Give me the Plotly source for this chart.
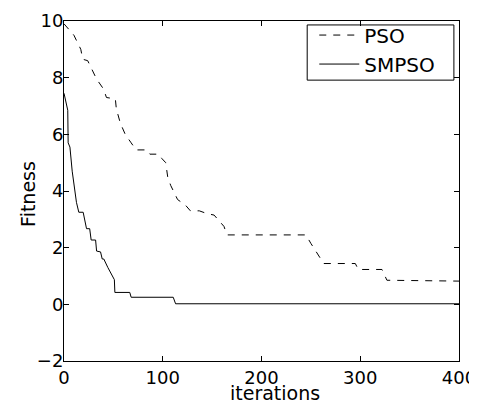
import plotly.graph_objects as go

# Data
pso_x = [0, 10, 17, 19, 24, 28, 33, 40, 43, 52, 53, 57, 62, 68, 73, 84, 87, 96, 99, 103,
         105, 108, 115, 123, 128, 137, 145, 152, 156, 162, 165, 245, 250, 256, 263, 295,
         298, 322, 327, 400]
pso_y = [9.9, 9.5, 9.0, 8.65, 8.6, 8.3, 7.95, 7.6, 7.3, 7.25, 6.9, 6.4, 6.0, 5.7, 5.45, 5.45,
         5.3, 5.3, 5.15, 5.0, 4.5, 4.2, 3.7, 3.5, 3.3, 3.3, 3.2, 3.15, 3.0, 2.75, 2.45, 2.45,
         2.15, 1.8, 1.44, 1.44, 1.23, 1.23, 0.85, 0.82]

smpso_x = [0, 3.8, 4.2, 6, 8.3, 10, 12.6, 15, 19.4, 22.8, 26, 27.5, 32, 33, 37, 38.7, 40.3,
           44.4, 48.8, 51, 51.5, 66.6, 68, 110.6, 113, 400]
smpso_y = [7.45, 6.85, 5.7, 5.55, 4.7, 4.3, 3.6, 3.25, 3.25, 2.67, 2.67, 2.27, 2.27, 1.88,
           1.85, 1.6, 1.6, 1.3, 1.0, 0.87, 0.42, 0.42, 0.25, 0.25, 0.02, 0.02]

x_ticks = [0, 100, 200, 300, 400]
y_ticks = [-2, 0, 2, 4, 6, 8, 10]

FONT = "DejaVu Sans, Arial, sans-serif"

fig = go.Figure()
fig.add_trace(go.Scatter(x=pso_x, y=pso_y, mode="lines", name="PSO",
                         line=dict(color="black", width=1, dash="7px,7px")))
fig.add_trace(go.Scatter(x=smpso_x, y=smpso_y, mode="lines", name="SMPSO",
                         line=dict(color="black", width=1)))

axis_common = dict(
    showline=True, linecolor="black", linewidth=1, mirror="allticks",
    ticks="inside", ticklen=5, tickcolor="black", tickwidth=1,
    showgrid=False, zeroline=False, automargin=False,
    ticklabeloverflow="allow",
    tickfont=dict(family=FONT, size=18, color="black"),
)

fig.update_layout(
    width=469, height=396,
    margin=dict(l=55.5, r=18, t=8, b=43),
    paper_bgcolor="white", plot_bgcolor="white",
    font=dict(family=FONT, size=18, color="black"),
    xaxis=dict(range=[0, 400], tickvals=x_ticks, ticklabelstandoff=0, **axis_common),
    yaxis=dict(range=[-2, 10], tickvals=y_ticks, ticklabelstandoff=-4, **axis_common),
    legend=dict(x=0.6336, y=1.016, xanchor="left", yanchor="top",
                bgcolor="rgba(0,0,0,0)", borderwidth=0,
                font=dict(family=FONT, size=20, color="black"),
                tracegroupgap=0, itemwidth=40),
    showlegend=True,
    shapes=[
        dict(type="rect", xref="paper", yref="paper", x0=0.6157, x1=0.9871,
             y0=0.8261, y1=0.9884, line=dict(color="black", width=1),
             fillcolor="rgba(0,0,0,0)", layer="above"),
    ],
    annotations=[
        dict(text="iterations", xref="paper", yref="paper", x=0.535, y=0,
             xanchor="center", yanchor="middle", yshift=-32, showarrow=False,
             font=dict(family=FONT, size=19, color="black")),
        dict(text="Fitness", xref="paper", yref="paper", x=0, y=0.49,
             xanchor="center", yanchor="middle", xshift=-35.5, textangle=-90,
             showarrow=False, font=dict(family=FONT, size=19, color="black")),
    ],
)

fig.write_html("out.html")
